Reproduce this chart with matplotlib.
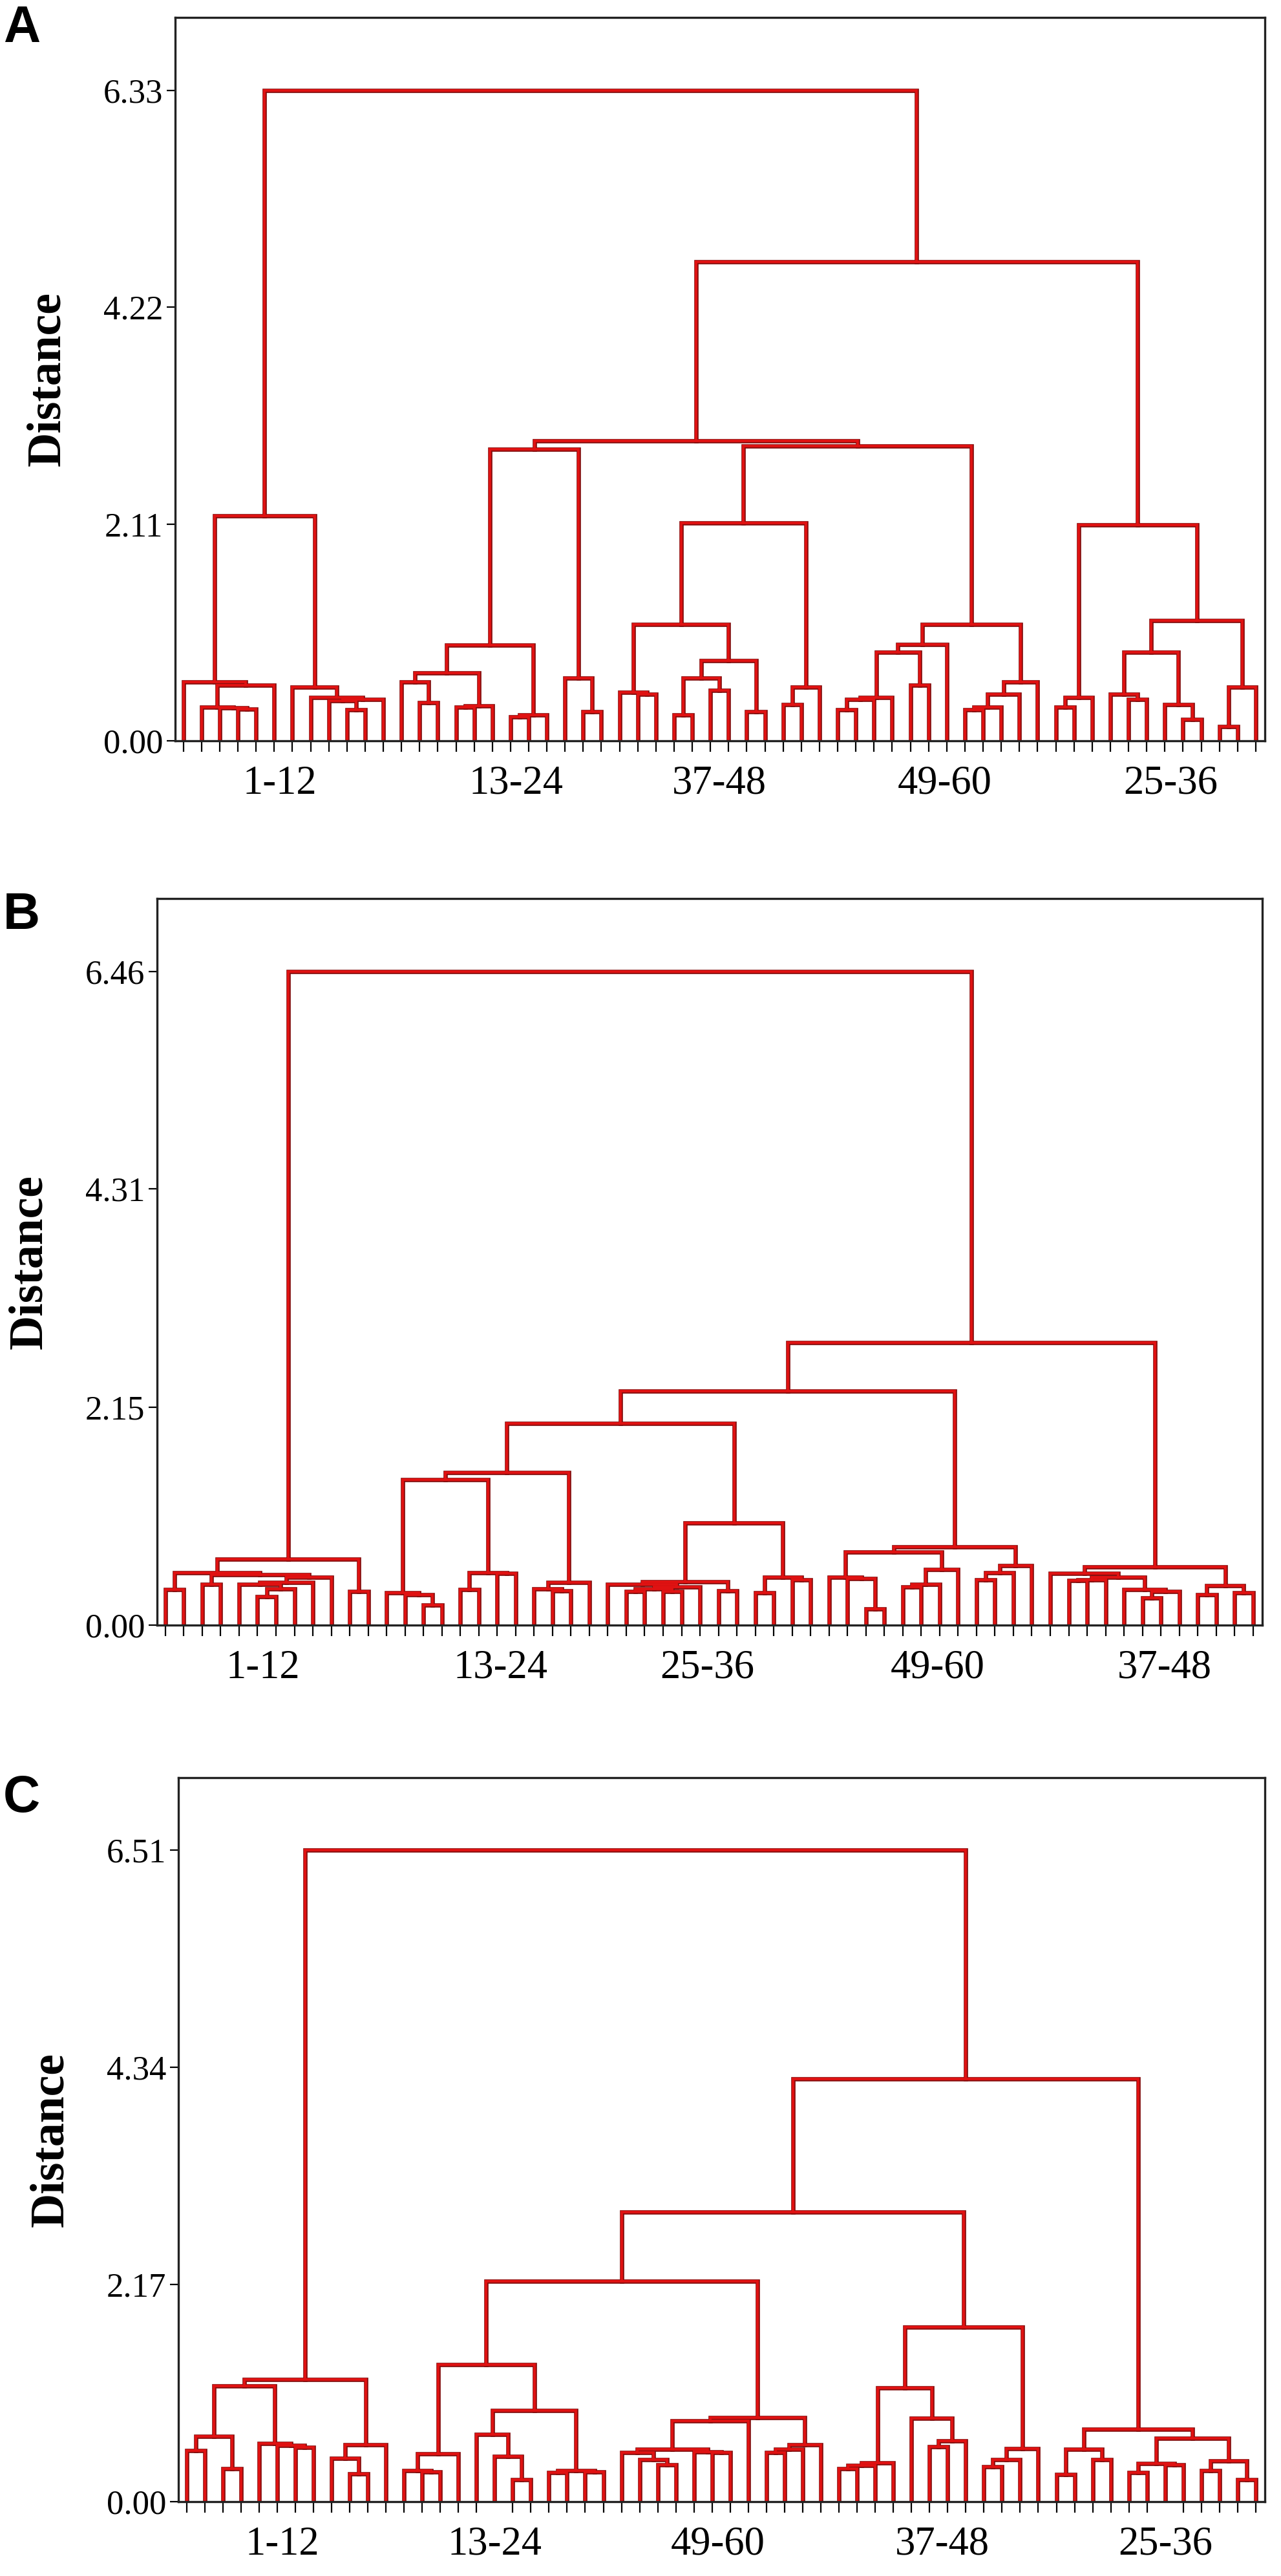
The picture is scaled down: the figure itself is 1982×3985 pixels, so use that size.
import matplotlib.pyplot as plt

plt.rcParams['font.family'] = ['Liberation Serif', 'DejaVu Serif']

N_LEAVES = 60

# każde scalenie: (lewy, prawy, wysokość); liście 0-59, węzeł i-tego scalenia = 60 + i
a_merges = [
    (3, 4, .31), (2, 60, .32), (1, 61, .33), (62, 5, .54), (0, 63, .57),
    (9, 10, .305), (8, 65, .39), (66, 11, .40), (7, 67, .42), (6, 68, .52),
    (64, 69, 2.19),
    (13, 14, .37), (12, 71, .57), (15, 16, .33), (73, 17, .34), (72, 74, .66),
    (18, 19, .23), (76, 20, .25), (75, 77, .93), (22, 23, .28), (21, 79, .61),
    (78, 80, 2.84),
    (25, 26, .45), (24, 82, .47), (27, 28, .25), (29, 30, .49), (84, 85, .61),
    (31, 32, .285), (86, 87, .78), (83, 88, 1.13), (33, 34, .35), (90, 35, .52),
    (89, 91, 2.12),
    (36, 37, .305), (93, 38, .40), (94, 39, .42), (40, 41, .54), (95, 96, .86),
    (97, 42, .94), (43, 44, .305), (99, 45, .33), (100, 46, .45), (101, 47, .57),
    (98, 102, 1.13),
    (48, 49, .33), (104, 50, .42), (52, 53, .40), (51, 106, .45), (55, 56, .21),
    (54, 108, .35), (107, 109, .86), (57, 58, .14), (111, 59, .52), (110, 112, 1.17),
    (105, 113, 2.10),
    (92, 103, 2.87), (81, 115, 2.92), (116, 114, 4.66), (70, 117, 6.33),
]
a_yticks = [0.00, 2.11, 4.22, 6.33]
a_groups = ['1-12', '13-24', '37-48', '49-60', '25-36']
a_group_x = [5.3, 18.3, 29.5, 41.9, 54.3]

b_merges = [
    (0, 1, .35), (5, 6, .28), (61, 7, .36), (4, 62, .40), (63, 8, .42),
    (64, 9, .47), (2, 3, .40), (66, 65, .50), (60, 67, .52), (10, 11, .33),
    (68, 69, .65),
    (14, 15, .20), (13, 71, .30), (12, 72, .32), (16, 17, .35), (18, 19, .51),
    (74, 75, .52), (73, 76, 1.44), (21, 22, .34), (20, 78, .36), (79, 23, .42),
    (77, 80, 1.51),
    (25, 26, .33), (27, 28, .33), (82, 83, .36), (84, 29, .38), (24, 85, .40),
    (30, 31, .34), (86, 87, .43), (32, 33, .32), (34, 35, .45), (89, 90, .47),
    (88, 91, 1.01),
    (38, 39, .16), (37, 93, .46), (36, 94, .47), (40, 41, .38), (96, 42, .40),
    (97, 43, .55), (95, 98, .72), (44, 45, .45), (100, 46, .52), (101, 47, .585),
    (99, 102, .77),
    (49, 50, .44), (104, 51, .45), (53, 54, .27), (106, 55, .33), (52, 107, .35),
    (105, 108, .47), (48, 109, .51), (56, 57, .30), (58, 59, .32), (111, 112, .39),
    (110, 113, .575),
    (81, 92, 1.99), (115, 103, 2.31), (116, 114, 2.79), (70, 117, 6.46),
]
b_yticks = [0.00, 2.15, 4.31, 6.46]
b_groups = ['1-12', '13-24', '25-36', '49-60', '37-48']
b_group_x = [5.3, 18.2, 29.4, 41.9, 54.2]

c_merges = [
    (0, 1, .51), (2, 3, .33), (60, 61, .65), (6, 7, .54), (5, 63, .56),
    (4, 64, .58), (62, 65, 1.155), (9, 10, .28), (8, 67, .43), (68, 11, .565),
    (66, 69, 1.22),
    (13, 14, .30), (12, 71, .31), (72, 15, .48), (18, 19, .22), (17, 74, .45),
    (16, 75, .67), (20, 21, .29), (22, 23, .30), (77, 78, .31), (76, 79, .91),
    (73, 80, 1.37),
    (26, 27, .37), (25, 82, .42), (24, 83, .49), (29, 30, .49), (28, 85, .50),
    (84, 86, .52), (87, 31, .81), (32, 33, .49), (89, 34, .52), (90, 35, .565),
    (88, 91, .84),
    (36, 37, .33), (93, 38, .36), (94, 39, .385), (41, 42, .55), (96, 43, .61),
    (40, 97, .83), (95, 98, 1.135), (44, 45, .35), (100, 46, .42), (101, 47, .53),
    (99, 102, 1.74),
    (48, 49, .27), (50, 51, .42), (104, 105, .52), (52, 53, .29), (54, 55, .37),
    (107, 108, .38), (56, 57, .31), (58, 59, .22), (110, 111, .405), (109, 112, .63),
    (106, 113, .725),
    (81, 92, 2.20), (115, 103, 2.89), (116, 114, 4.22), (70, 117, 6.51),
]
c_yticks = [0.00, 2.17, 4.34, 6.51]
c_groups = ['1-12', '13-24', '49-60', '37-48', '25-36']
c_group_x = [5.3, 17.0, 29.3, 41.7, 54.0]

W, H = 1983, 3985
DARK = '#850d0d'
RED = '#e01212'


def draw_tree(ax, merges):
    x = [float(i) for i in range(N_LEAVES)]
    y = [0.0] * N_LEAVES
    segs = []
    for a, b, h in merges:
        segs.append(([x[a], x[a], x[b], x[b]], [y[a], h, h, y[b]]))
        x.append((x[a] + x[b]) / 2)
        y.append(h)
    # ciemna obwódka, potem czerwony środek
    for xs, ys in segs:
        ax.plot(xs, ys, color=DARK, lw=4.8, solid_joinstyle='miter')
    for xs, ys in segs:
        ax.plot(xs, ys, color=RED, lw=2.8, solid_joinstyle='miter')


def panel(box, ymax, merges, yticks, groups, group_x, letter, letter_y):
    left, right, top, bottom = box
    ax = fig.add_axes([left / W, 1 - bottom / H, (right - left) / W, (bottom - top) / H])
    draw_tree(ax, merges)
    ax.set_xlim(-0.45, 59.5)
    ax.set_ylim(0, ymax)
    for s in ax.spines.values():
        s.set_linewidth(2.4)
        s.set_color('#222222')
    ax.set_xticks(range(N_LEAVES), minor=True)
    ax.set_xticks(group_x)
    ax.set_xticklabels(groups)
    ax.tick_params(axis='x', which='major', length=0, pad=27, labelsize=45)
    ax.tick_params(axis='x', which='minor', length=12, width=1.6, direction='out')
    ax.set_yticks(yticks)
    ax.set_yticklabels([f'{v:.2f}' for v in yticks])
    ax.tick_params(axis='y', length=9.5, width=1.6, pad=4, labelsize=38)
    fig.text((left - 197) / W, 1 - (top + bottom) / 2 / H, 'Distance', rotation=90,
             ha='center', va='center', fontsize=53, fontweight='bold')
    fig.text(5 / W, 1 - letter_y / H, letter, ha='left', va='baseline',
             fontsize=57, fontweight='bold', family=['Liberation Sans', 'DejaVu Sans'])
    return ax


fig = plt.figure(figsize=(W / 100, H / 100), dpi=100)

panel((271, 1957, 27, 1146), 7.04, a_merges, a_yticks, a_groups, a_group_x, 'A', 65)
panel((243, 1953, 1390, 2514), 7.18, b_merges, b_yticks, b_groups, b_group_x, 'B', 1437)
panel((276, 1957, 2750, 3870), 7.23, c_merges, c_yticks, c_groups, c_group_x, 'C', 2803)

fig.savefig('out.png', dpi=100)
